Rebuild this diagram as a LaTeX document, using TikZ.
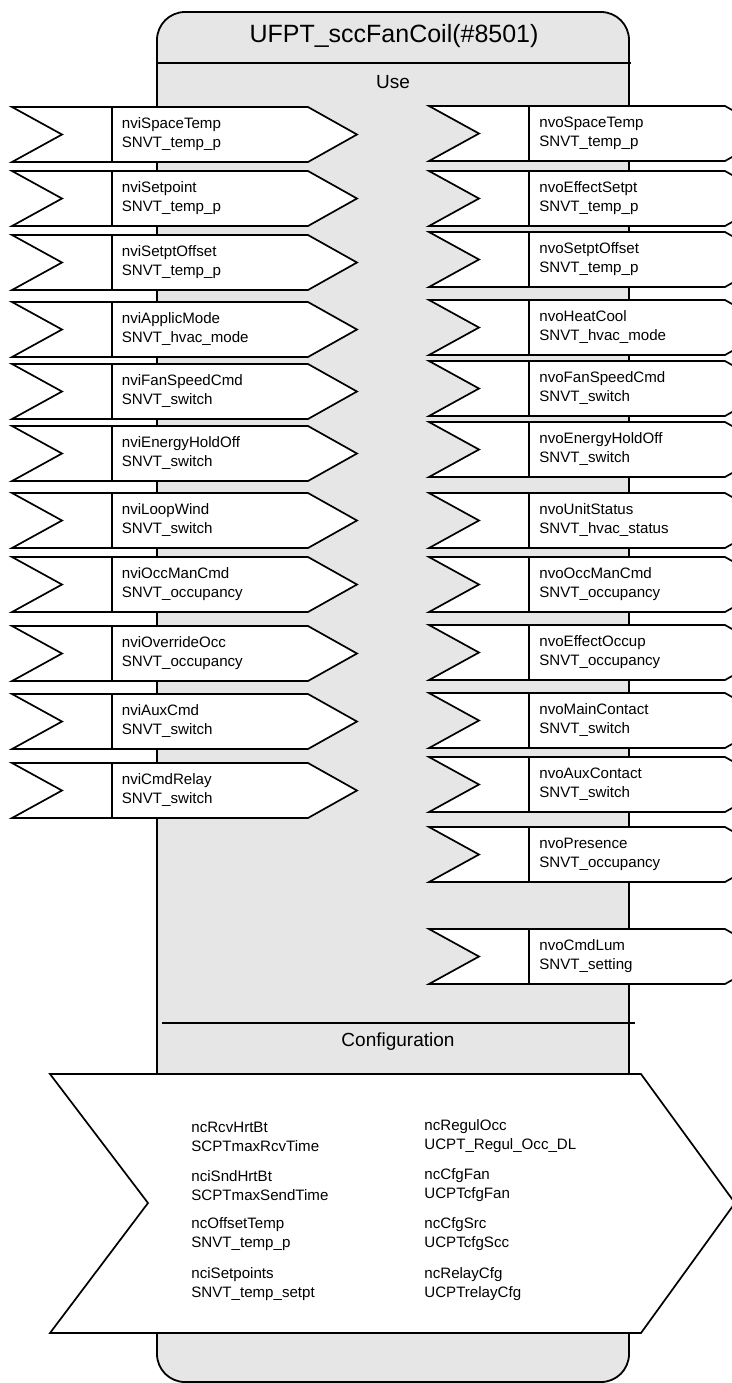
\documentclass[tikz,border=0pt]{standalone}
\usepackage{fontspec}
\setmainfont{Liberation Sans}
\usepackage{tikz}
\usetikzlibrary{positioning}
\definecolor{fondbloc}{RGB}{230,230,230}

\begin{document}
\begin{tikzpicture}[x=0.5pt,y=-0.5pt,
  bloc/.style={draw=black,fill=fondbloc,line width=0.9pt,rounded corners=14pt},
  trait/.style={draw=black,line width=0.9pt},
  sig/.style={draw=black,fill=white,line width=0.85pt},
  sigtext/.style={anchor=west,align=left,inner sep=0pt,font=\fontsize{7.55}{9.5}\selectfont},
  titre/.style={inner sep=0pt,font=\fontsize{12.5}{15}\selectfont},
  soustitre/.style={inner sep=0pt,font=\fontsize{9.5}{12}\selectfont}]
\clip (0,0) rectangle (732,1383);

\draw[bloc] (157,12) rectangle (629,1382);%le bloc
\draw[trait] (157,63) -- (631,63);
\draw[trait] (162,1023) -- (635,1023);

\node[titre] (titre) at (394,36) {UFPT\_sccFanCoil(\#8501)};
\node[soustitre] (use) at (393,82) {Use};
\node[soustitre] (config) at (398,1042) {Configuration};

%les entrees
\draw[sig] (12,107) -- ++(296,0) -- ++(49,27.5) -- ++(-49,27.5) -- ++(-296,0) -- ++(50,-27.5) -- cycle (112,107) -- ++(0,55);
\node[sigtext] (nviSpaceTemp) at (121.5,134.5) {nviSpaceTemp\\SNVT\_temp\_p};
\draw[sig] (12,171) -- ++(296,0) -- ++(49,27.5) -- ++(-49,27.5) -- ++(-296,0) -- ++(50,-27.5) -- cycle (112,171) -- ++(0,55);
\node[sigtext] (nviSetpoint) at (121.5,198.5) {nviSetpoint\\SNVT\_temp\_p};
\draw[sig] (12,235) -- ++(296,0) -- ++(49,27.5) -- ++(-49,27.5) -- ++(-296,0) -- ++(50,-27.5) -- cycle (112,235) -- ++(0,55);
\node[sigtext] (nviSetptOffset) at (121.5,262.5) {nviSetptOffset\\SNVT\_temp\_p};
\draw[sig] (12,302) -- ++(296,0) -- ++(49,27.5) -- ++(-49,27.5) -- ++(-296,0) -- ++(50,-27.5) -- cycle (112,302) -- ++(0,55);
\node[sigtext] (nviApplicMode) at (121.5,329.5) {nviApplicMode\\SNVT\_hvac\_mode};
\draw[sig] (12,364) -- ++(296,0) -- ++(49,27.5) -- ++(-49,27.5) -- ++(-296,0) -- ++(50,-27.5) -- cycle (112,364) -- ++(0,55);
\node[sigtext] (nviFanSpeedCmd) at (121.5,391.5) {nviFanSpeedCmd\\SNVT\_switch};
\draw[sig] (12,426) -- ++(296,0) -- ++(49,27.5) -- ++(-49,27.5) -- ++(-296,0) -- ++(50,-27.5) -- cycle (112,426) -- ++(0,55);
\node[sigtext] (nviEnergyHoldOff) at (121.5,453.5) {nviEnergyHoldOff\\SNVT\_switch};
\draw[sig] (12,493) -- ++(296,0) -- ++(49,27.5) -- ++(-49,27.5) -- ++(-296,0) -- ++(50,-27.5) -- cycle (112,493) -- ++(0,55);
\node[sigtext] (nviLoopWind) at (121.5,520.5) {nviLoopWind\\SNVT\_switch};
\draw[sig] (12,557) -- ++(296,0) -- ++(49,27.5) -- ++(-49,27.5) -- ++(-296,0) -- ++(50,-27.5) -- cycle (112,557) -- ++(0,55);
\node[sigtext] (nviOccManCmd) at (121.5,584.5) {nviOccManCmd\\SNVT\_occupancy};
\draw[sig] (12,626) -- ++(296,0) -- ++(49,27.5) -- ++(-49,27.5) -- ++(-296,0) -- ++(50,-27.5) -- cycle (112,626) -- ++(0,55);
\node[sigtext] (nviOverrideOcc) at (121.5,653.5) {nviOverrideOcc\\SNVT\_occupancy};
\draw[sig] (12,694) -- ++(296,0) -- ++(49,27.5) -- ++(-49,27.5) -- ++(-296,0) -- ++(50,-27.5) -- cycle (112,694) -- ++(0,55);
\node[sigtext] (nviAuxCmd) at (121.5,721.5) {nviAuxCmd\\SNVT\_switch};
\draw[sig] (12,763) -- ++(296,0) -- ++(49,27.5) -- ++(-49,27.5) -- ++(-296,0) -- ++(50,-27.5) -- cycle (112,763) -- ++(0,55);
\node[sigtext] (nviCmdRelay) at (121.5,790.5) {nviCmdRelay\\SNVT\_switch};

%les sorties
\draw[sig] (429,106) -- ++(296,0) -- ++(49,27.5) -- ++(-49,27.5) -- ++(-296,0) -- ++(50,-27.5) -- cycle (529,106) -- ++(0,55);
\node[sigtext] (nvoSpaceTemp) at (539,133.5) {nvoSpaceTemp\\SNVT\_temp\_p};
\draw[sig] (429,171) -- ++(296,0) -- ++(49,27.5) -- ++(-49,27.5) -- ++(-296,0) -- ++(50,-27.5) -- cycle (529,171) -- ++(0,55);
\node[sigtext] (nvoEffectSetpt) at (539,198.5) {nvoEffectSetpt\\SNVT\_temp\_p};
\draw[sig] (429,232) -- ++(296,0) -- ++(49,27.5) -- ++(-49,27.5) -- ++(-296,0) -- ++(50,-27.5) -- cycle (529,232) -- ++(0,55);
\node[sigtext] (nvoSetptOffset) at (539,259.5) {nvoSetptOffset\\SNVT\_temp\_p};
\draw[sig] (429,300) -- ++(296,0) -- ++(49,27.5) -- ++(-49,27.5) -- ++(-296,0) -- ++(50,-27.5) -- cycle (529,300) -- ++(0,55);
\node[sigtext] (nvoHeatCool) at (539,327.5) {nvoHeatCool\\SNVT\_hvac\_mode};
\draw[sig] (429,361) -- ++(296,0) -- ++(49,27.5) -- ++(-49,27.5) -- ++(-296,0) -- ++(50,-27.5) -- cycle (529,361) -- ++(0,55);
\node[sigtext] (nvoFanSpeedCmd) at (539,388.5) {nvoFanSpeedCmd\\SNVT\_switch};
\draw[sig] (429,422) -- ++(296,0) -- ++(49,27.5) -- ++(-49,27.5) -- ++(-296,0) -- ++(50,-27.5) -- cycle (529,422) -- ++(0,55);
\node[sigtext] (nvoEnergyHoldOff) at (539,449.5) {nvoEnergyHoldOff\\SNVT\_switch};
\draw[sig] (429,493) -- ++(296,0) -- ++(49,27.5) -- ++(-49,27.5) -- ++(-296,0) -- ++(50,-27.5) -- cycle (529,493) -- ++(0,55);
\node[sigtext] (nvoUnitStatus) at (539,520.5) {nvoUnitStatus\\SNVT\_hvac\_status};
\draw[sig] (429,557) -- ++(296,0) -- ++(49,27.5) -- ++(-49,27.5) -- ++(-296,0) -- ++(50,-27.5) -- cycle (529,557) -- ++(0,55);
\node[sigtext] (nvoOccManCmd) at (539,584.5) {nvoOccManCmd\\SNVT\_occupancy};
\draw[sig] (429,625) -- ++(296,0) -- ++(49,27.5) -- ++(-49,27.5) -- ++(-296,0) -- ++(50,-27.5) -- cycle (529,625) -- ++(0,55);
\node[sigtext] (nvoEffectOccup) at (539,652.5) {nvoEffectOccup\\SNVT\_occupancy};
\draw[sig] (429,693) -- ++(296,0) -- ++(49,27.5) -- ++(-49,27.5) -- ++(-296,0) -- ++(50,-27.5) -- cycle (529,693) -- ++(0,55);
\node[sigtext] (nvoMainContact) at (539,720.5) {nvoMainContact\\SNVT\_switch};
\draw[sig] (429,757) -- ++(296,0) -- ++(49,27.5) -- ++(-49,27.5) -- ++(-296,0) -- ++(50,-27.5) -- cycle (529,757) -- ++(0,55);
\node[sigtext] (nvoAuxContact) at (539,784.5) {nvoAuxContact\\SNVT\_switch};
\draw[sig] (429,827) -- ++(296,0) -- ++(49,27.5) -- ++(-49,27.5) -- ++(-296,0) -- ++(50,-27.5) -- cycle (529,827) -- ++(0,55);
\node[sigtext] (nvoPresence) at (539,854.5) {nvoPresence\\SNVT\_occupancy};
\draw[sig] (429,929) -- ++(296,0) -- ++(49,27.5) -- ++(-49,27.5) -- ++(-296,0) -- ++(50,-27.5) -- cycle (529,929) -- ++(0,55);
\node[sigtext] (nvoCmdLum) at (539,956.5) {nvoCmdLum\\SNVT\_setting};

%la configuration
\draw[sig] (50,1074) -- (641,1074) -- (735,1203) -- (641,1333) -- (50,1333) -- (148,1203) -- cycle;
\node[sigtext] (ncRcvHrtBt) at (191,1136.5) {ncRcvHrtBt\\SCPTmaxRcvTime};
\node[sigtext] (nciSndHrtBt) at (191,1185.5) {nciSndHrtBt\\SCPTmaxSendTime};
\node[sigtext] (ncOffsetTemp) at (191,1234.5) {ncOffsetTemp\\SNVT\_temp\_p};
\node[sigtext] (nciSetpoints) at (191,1284) {nciSetpoints\\SNVT\_temp\_setpt};
\node[sigtext] (ncRegulOcc) at (424,1136.5) {ncRegulOcc\\UCPT\_Regul\_Occ\_DL};
\node[sigtext] (ncCfgFan) at (424,1185.5) {ncCfgFan\\UCPTcfgFan};
\node[sigtext] (ncCfgSrc) at (424,1234.5) {ncCfgSrc\\UCPTcfgScc};
\node[sigtext] (ncRelayCfg) at (424,1284) {ncRelayCfg\\UCPTrelayCfg};

\end{tikzpicture}
\end{document}
